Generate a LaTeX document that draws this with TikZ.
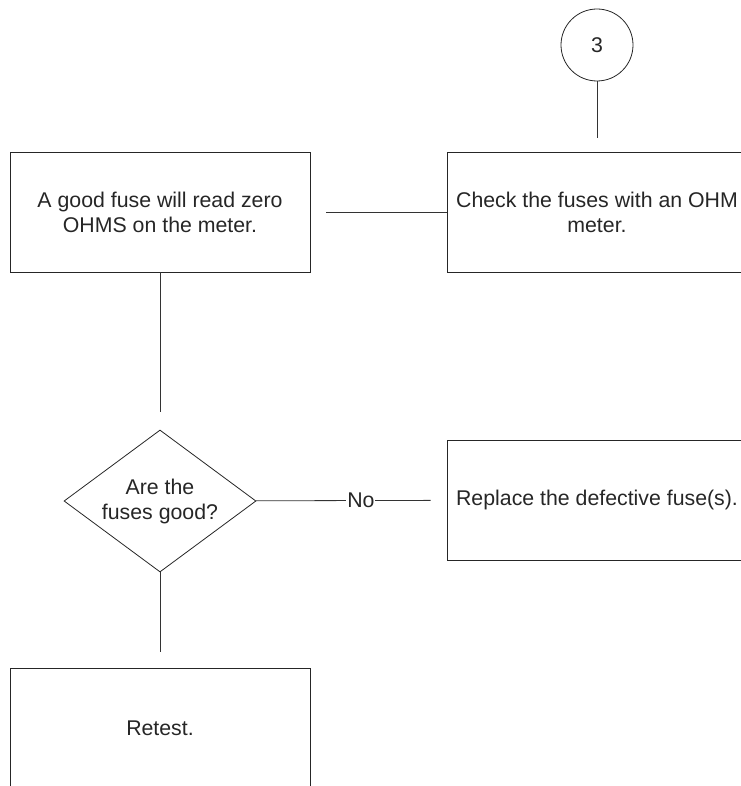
\documentclass[tikz,border=0pt]{standalone}
\usepackage{fontspec}
\setmainfont{Liberation Sans}
\usetikzlibrary{shapes.geometric}
\begin{document}
\begin{tikzpicture}[x=1pt,y=-1pt,
    font=\fontsize{21.3}{25}\selectfont,
    every node/.style={text=black!85},
    box/.style={draw=black!85, line width=.8pt, minimum width=300pt, minimum height=120pt, align=center, inner sep=0pt},
    decision/.style={diamond, aspect=1.35, draw=black!85, line width=.8pt, minimum width=192pt, minimum height=142pt, align=center, inner sep=0pt},
    link/.style={draw=black!80, line width=.8pt}]
    \useasboundingbox (0,0) rectangle (740,786);
    \node [circle, draw=black!85, line width=.8pt, minimum size=72pt, inner sep=0pt] (ref) at (597,45) {3};
    \node [box] (check) at (597,212) {Check the fuses with an OHM\\meter.};
    \node [box] (good) at (160,212) {A good fuse will read zero\\OHMS on the meter.};
    \node [decision] (fuses) at (160,501) {Are the\\fuses good?};
    \node [box] (replace) at (597,500) {Replace the defective fuse(s).};
    \node [box] (retest) at (160,728) {Retest.};

    \draw [link, shorten >=14pt] (ref) -- (check);
    \draw [link, shorten >=16pt] (check) -- (good);
    \draw [link, shorten >=18pt] (good) -- (fuses);
    \draw [link, shorten >=16pt] (fuses) -- node [pos=.55, fill=white, inner sep=1pt] {No} (replace);
    \draw [link, shorten >=16pt] (fuses) -- (retest);
\end{tikzpicture}
\end{document}
